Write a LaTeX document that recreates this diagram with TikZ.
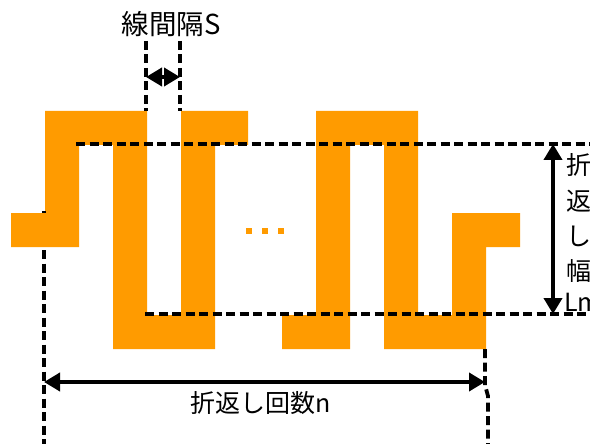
\documentclass[tikz,border=0pt]{standalone}
\usepackage{fontspec}
\setmainfont{Noto Sans CJK JP}
\usetikzlibrary{arrows.meta}
\definecolor{wire}{HTML}{FF9B00}
\tikzset{
  x=1pt,y=-1pt,
  wirepart/.style={fill=wire,draw=none},
  dimdash/.style={line width=3.8pt,draw=black,dash pattern=on 9pt off 4.5pt},
  dimarrow/.style={line width=3.8pt,draw=black,{Triangle[length=16pt,width=18pt]}-{Triangle[length=16pt,width=18pt]}},
  lab/.style={inner sep=0pt,font=\fontsize{25}{25}\selectfont,text=black},
  labtop/.style={inner sep=0pt,font=\fontsize{27.5}{27.5}\selectfont,text=black},
  dotmark/.style={rectangle,fill=wire,inner sep=0pt,minimum size=5.5pt}
}
\begin{document}
\begin{tikzpicture}
\useasboundingbox (0,0) rectangle (590,444);
\clip (0,0) rectangle (590,444);
% serpentine wire
\fill[wirepart] (11,213) -- (45,213) -- (45,111) -- (147,111) -- (147,315) -- (181,315) -- (181,111) -- (248,111) -- (248,145) -- (215,145) -- (215,349) -- (113,349) -- (113,145) -- (79,145) -- (79,247) -- (11,247) -- cycle;
\fill[wirepart] (316,111) -- (418,111) -- (418,315) -- (452,315) -- (452,213) -- (520,213) -- (520,247) -- (486,247) -- (486,349) -- (384,349) -- (384,145) -- (350,145) -- (350,349) -- (282,349) -- (282,315) -- (316,315) -- cycle;
\node[dotmark] (d1) at (249,231) {};
\node[dotmark] (d2) at (265,231) {};
\node[dotmark] (d3) at (281,231) {};
% reference points
\coordinate (topL) at (76,144);
\coordinate (topR) at (590,144);
\coordinate (botL) at (145,314);
\coordinate (botR) at (590,314);
\coordinate (s1a) at (146,41);
\coordinate (s1b) at (146,111);
\coordinate (s2a) at (180,41);
\coordinate (s2b) at (180,111);
\coordinate (nL1) at (44,211);
\coordinate (nL2) at (44,213);
\coordinate (nL3) at (44,250);
\coordinate (nL4) at (44,444);
\coordinate (nR1) at (485,349);
\coordinate (nR2) at (485,385);
\coordinate (nR3) at (488,396);
\coordinate (nR4) at (488,444);
\coordinate (sL) at (146,77);
\coordinate (sR) at (180,77);
\coordinate (hA) at (553,144);
\coordinate (hB) at (553,314);
\coordinate (wA) at (44,382);
\coordinate (wB) at (485,382);
% dashed guides
\draw[dimdash] (topL) -- (topR);
\draw[dimdash] (botL) -- (botR);
\draw[dimdash] (s1a) -- (s1b);
\draw[dimdash] (s2a) -- (s2b);
\draw[dimdash] (nL1) -- (nL2);
\draw[dimdash] (nL3) -- (nL4);
\draw[dimdash] (nR1) -- (nR2) -- (nR3) -- (nR4);
% arrows
\draw[dimarrow] (sL) -- (sR);
\draw[dimarrow] (hA) -- (hB);
\draw[dimarrow] (wA) -- (wB);
% labels
\node[labtop,anchor=center] (tS) at (171,24) {線間隔S};
\node[lab,anchor=center] (tN) at (261,403) {折返し回数n};
\node[lab,anchor=west] (t1) at (566,165) {折};
\node[lab,anchor=west] (t2) at (566,201) {返};
\node[lab,anchor=west] (t3) at (566,236) {し};
\node[lab,anchor=west] (t4) at (566,271) {幅};
\node[lab,anchor=west] (t5) at (564,302) {Lm};
\end{tikzpicture}
\end{document}
